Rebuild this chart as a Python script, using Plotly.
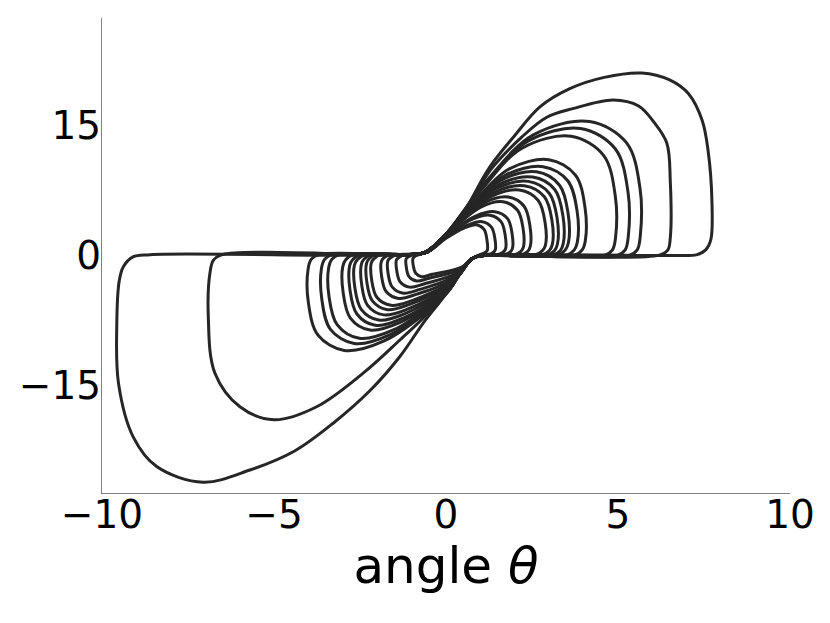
import plotly.graph_objects as go

# ---- data: key points (theta, omega) of each loop of the trajectory ----
upper_loops = [
    [(-0.9,0.05),(-0.5,0.45),(0.0,2.4),(0.46,4.6),(1.28,10.2),(2.0,13.8),(2.73,17.1),(3.6,19.2),(4.6,20.5),(5.69,21.0),(6.5,20.2),(7.05,18.6),(7.45,15.5),(7.62,12.0),(7.73,6.3),(7.7,1.8),(7.55,0.6),(7.3,0.05),(6.5,-0.05),(1.1,-0.05),(0.78,-0.35),(0.45,-1.8)],
    [(-0.9,0.05),(-0.5,0.45),(0.0,2.4),(0.5,4.7),(1.3,9.85),(2.2,13.6),(2.93,15.9),(3.69,16.9),(4.86,17.9),(5.6,17.2),(6.05,15.3),(6.42,12.9),(6.52,8.5),(6.52,2.0),(6.45,0.6),(6.2,0.0),(1.1,-0.05),(0.78,-0.35),(0.45,-1.8)],
    [(-0.9,0.05),(-0.5,0.45),(0.0,2.4),(1.16,8.47),(2.54,13.86),(4.17,15.4),(5.25,12.94),(5.64,7.7),(5.65,2.3),(5.56,0.6),(5.34,0.0),(1.1,-0.05),(0.78,-0.35),(0.45,-1.8)],
    [(-0.9,0.05),(-0.5,0.45),(0.0,2.4),(1.1,8.03),(2.38,13.14),(3.91,14.6),(4.92,12.26),(5.29,7.3),(5.3,2.19),(5.21,0.6),(4.99,0.0),(1.1,-0.05),(0.78,-0.35),(0.45,-1.8)],
    [(-0.9,0.05),(-0.5,0.45),(0.0,2.4),(1.03,7.54),(2.21,12.33),(3.64,13.7),(4.58,11.5),(4.92,6.85),(4.93,2.06),(4.84,0.6),(4.62,0.0),(1.1,-0.05),(0.78,-0.35),(0.45,-1.8)],
    [(-0.9,0.05),(-0.5,0.45),(0.0,2.4),(0.8,6.05),(1.82,9.9),(2.99,11.0),(3.76,9.24),(4.04,5.5),(4.05,1.65),(3.96,0.6),(3.74,0.0),(1.1,-0.05),(0.78,-0.35),(0.45,-1.8)],
    [(-0.9,0.05),(-0.5,0.45),(0.0,2.4),(0.72,5.61),(1.71,9.18),(2.82,10.2),(3.54,8.57),(3.81,5.1),(3.82,1.53),(3.73,0.6),(3.51,0.0),(1.1,-0.05),(0.78,-0.35),(0.45,-1.8)],
    [(-0.9,0.05),(-0.5,0.45),(0.0,2.4),(0.67,5.28),(1.6,8.64),(2.63,9.6),(3.3,8.06),(3.55,4.8),(3.56,1.44),(3.47,0.6),(3.25,0.0),(1.1,-0.05),(0.78,-0.35),(0.45,-1.8)],
    [(-0.9,0.05),(-0.5,0.45),(0.0,2.4),(0.62,4.95),(1.53,8.1),(2.52,9.0),(3.16,7.56),(3.4,4.5),(3.41,1.35),(3.32,0.5),(3.1,0.0),(1.1,-0.05),(0.78,-0.35),(0.45,-1.8)],
    [(-0.9,0.05),(-0.5,0.45),(0.0,2.4),(0.57,4.68),(1.45,7.65),(2.39,8.5),(3.0,7.14),(3.23,4.25),(3.24,1.28),(3.15,0.5),(2.93,0.0),(1.1,-0.05),(0.78,-0.35),(0.45,-1.8)],
    [(-0.9,0.05),(-0.5,0.45),(0.0,2.4),(0.52,4.4),(1.39,7.2),(2.28,8.0),(2.86,6.72),(3.08,4.0),(3.09,1.2),(3.0,0.5),(2.78,0.0),(1.1,-0.05),(0.78,-0.35),(0.45,-1.8)],
    [(-0.9,0.05),(-0.5,0.45),(0.0,2.4),(0.46,4.13),(1.3,6.75),(2.13,7.5),(2.68,6.3),(2.88,3.75),(2.89,1.13),(2.8,0.5),(2.58,0.0),(1.1,-0.05),(0.78,-0.35),(0.45,-1.8)],
    [(-0.9,0.05),(-0.5,0.45),(0.0,2.4),(0.37,3.69),(1.1,6.03),(1.81,6.7),(2.27,5.63),(2.44,3.35),(2.45,1.0),(2.37,0.4),(2.17,0.0),(1.1,-0.05),(0.78,-0.35),(0.45,-1.8)],
    [(-0.9,0.05),(-0.5,0.45),(0.0,2.4),(0.3,3.38),(1.01,5.54),(1.66,6.15),(2.08,5.17),(2.24,3.08),(2.25,0.92),(2.17,0.4),(1.97,0.0),(1.1,-0.05),(0.78,-0.35),(0.45,-1.8)],
    [(-0.9,0.05),(-0.5,0.45),(0.17,2.75),(0.86,4.5),(1.42,5.0),(1.79,4.2),(1.92,2.5),(1.93,0.75),(1.85,0.3),(1.65,0.0),(1.1,-0.05),(0.78,-0.35),(0.45,-1.8)],
    [(-0.9,0.05),(-0.5,0.45),(0.13,2.53),(0.77,4.14),(1.27,4.6),(1.6,3.86),(1.72,2.3),(1.73,0.69),(1.65,0.3),(1.45,0.0),(1.1,-0.05),(0.78,-0.35),(0.45,-1.8)],
    [(-0.9,0.05),(-0.5,0.45),(0.03,2.12),(0.64,3.47),(1.05,3.85),(1.32,3.23),(1.42,1.93),(1.43,0.58),(1.35,0.25),(1.15,0.0),(0.78,-0.35),(0.45,-1.8)],
    [(-0.9,0.05),(-0.5,0.45),(0.0,1.93),(0.54,3.15),(0.88,3.5),(1.11,2.94),(1.19,1.75),(1.2,0.53),(1.12,0.25),(0.95,0.0),(0.78,-0.35),(0.45,-1.8)],
]

lower_loops = [
    [(1.1,-0.05),(0.78,-0.35),(0.4,-2.2),(0.1,-4.0),(-0.6,-7.5),(-1.34,-11.7),(-2.2,-15.6),(-3.28,-19.4),(-4.4,-22.6),(-5.7,-24.8),(-7.06,-26.2),(-8.41,-24.4),(-9.09,-21.0),(-9.52,-14.8),(-9.57,-8.0),(-9.5,-3.0),(-9.38,-1.35),(-9.1,-0.2),(-8.6,0.05),(-1.1,0.05),(-0.6,0.35),(-0.15,1.8)],
    [(1.1,-0.05),(0.78,-0.35),(0.4,-2.2),(0.0,-4.2),(-0.65,-7.2),(-1.34,-9.8),(-2.4,-13.6),(-3.76,-17.5),(-5.0,-19.0),(-5.99,-17.5),(-6.72,-13.6),(-6.91,-7.1),(-6.86,-2.0),(-6.76,-0.58),(-6.5,0.05),(-1.1,0.05),(-0.6,0.35),(-0.15,1.8)],
    [(1.1,-0.05),(0.78,-0.35),(0.4,-2.2),(0.1,-4.0),(-0.41,-6.05),(-1.8,-9.9),(-2.96,-11.0),(-3.72,-9.24),(-4.0,-5.5),(-4.01,-1.65),(-3.92,-0.5),(-3.7,0.05),(-1.1,0.05),(-0.6,0.35),(-0.15,1.8)],
    [(1.1,-0.05),(0.78,-0.35),(0.4,-2.2),(0.1,-4.0),(-0.32,-5.61),(-1.62,-9.18),(-2.67,-10.2),(-3.36,-8.57),(-3.61,-5.1),(-3.62,-1.53),(-3.53,-0.5),(-3.31,0.05),(-1.1,0.05),(-0.6,0.35),(-0.15,1.8)],
    [(1.1,-0.05),(0.78,-0.35),(0.4,-2.2),(0.1,-4.0),(-0.26,-5.28),(-1.53,-8.64),(-2.52,-9.6),(-3.16,-8.06),(-3.4,-4.8),(-3.41,-1.44),(-3.32,-0.5),(-3.1,0.05),(-1.1,0.05),(-0.6,0.35),(-0.15,1.8)],
    [(1.1,-0.05),(0.78,-0.35),(0.4,-2.2),(-0.15,-4.76),(-1.35,-7.79),(-2.21,-8.65),(-2.78,-7.27),(-2.99,-4.33),(-3.0,-1.3),(-2.91,-0.5),(-2.69,0.05),(-1.1,0.05),(-0.6,0.35),(-0.15,1.8)],
    [(1.1,-0.05),(0.78,-0.35),(0.4,-2.2),(-0.09,-4.46),(-1.26,-7.29),(-2.06,-8.1),(-2.59,-6.8),(-2.79,-4.05),(-2.8,-1.22),(-2.71,-0.5),(-2.49,0.05),(-1.1,0.05),(-0.6,0.35),(-0.15,1.8)],
    [(1.1,-0.05),(0.78,-0.35),(0.4,-2.2),(-0.03,-4.13),(-1.19,-6.75),(-1.96,-7.5),(-2.46,-6.3),(-2.65,-3.75),(-2.66,-1.13),(-2.57,-0.5),(-2.35,0.05),(-1.1,0.05),(-0.6,0.35),(-0.15,1.8)],
    [(1.1,-0.05),(0.78,-0.35),(0.4,-2.2),(0.03,-3.8),(-1.1,-6.21),(-1.81,-6.9),(-2.28,-5.8),(-2.45,-3.45),(-2.46,-1.04),(-2.38,-0.45),(-2.17,0.05),(-1.1,0.05),(-0.6,0.35),(-0.15,1.8)],
    [(1.1,-0.05),(0.78,-0.35),(0.4,-2.2),(0.09,-3.47),(-1.04,-5.67),(-1.7,-6.3),(-2.14,-5.29),(-2.3,-3.15),(-2.31,-0.95),(-2.23,-0.4),(-2.03,0.05),(-1.1,0.05),(-0.6,0.35),(-0.15,1.8)],
    [(1.1,-0.05),(0.78,-0.35),(0.4,-2.2),(0.13,-3.19),(-0.97,-5.22),(-1.6,-5.8),(-2.01,-4.87),(-2.16,-2.9),(-2.17,-0.87),(-2.09,-0.4),(-1.89,0.05),(-1.1,0.05),(-0.6,0.35),(-0.15,1.8)],
    [(1.1,-0.05),(0.78,-0.35),(0.21,-2.75),(-0.84,-4.5),(-1.38,-5.0),(-1.74,-4.2),(-1.87,-2.5),(-1.88,-0.75),(-1.8,-0.3),(-1.6,0.05),(-1.1,0.05),(-0.6,0.35),(-0.15,1.8)],
    [(1.1,-0.05),(0.78,-0.35),(0.26,-2.42),(-0.76,-3.96),(-1.24,-4.4),(-1.56,-3.7),(-1.68,-2.2),(-1.69,-0.66),(-1.61,-0.3),(-1.41,0.05),(-1.05,0.1),(-0.6,0.35),(-0.15,1.8)],
    [(1.1,-0.05),(0.78,-0.35),(0.33,-2.04),(-0.64,-3.33),(-1.06,-3.7),(-1.33,-3.11),(-1.43,-1.85),(-1.44,-0.56),(-1.36,-0.25),(-1.18,0.05),(-0.6,0.35),(-0.15,1.8)],
    [(1.1,-0.05),(0.78,-0.35),(0.41,-1.65),(-0.52,-2.7),(-0.85,-3.0),(-1.07,-2.52),(-1.15,-1.5),(-1.16,-0.45),(-1.09,-0.2),(-0.93,0.05),(-0.6,0.35),(-0.15,1.8)],
    [(1.1,-0.05),(0.78,-0.35),(0.46,-1.38),(-0.43,-2.25),(-0.7,-2.5),(-0.88,-2.1),(-0.95,-1.25),(-0.96,-0.38),(-0.9,-0.15),(-0.78,0.05),(-0.55,0.4),(-0.15,1.8)],
]

x_tick_values = [-10, -5, 0, 5, 10]
y_tick_values = [-15, 0, 15]
x_range = [-10, 10]
y_range = [-27.45, 27.35]
x_title = "angle <i>θ</i>"

LINE_COLOR = "#262626"
SPINE_COLOR = "#808080"
FONT = "DejaVu Sans"

fig = go.Figure()
for loop in upper_loops + lower_loops:
    fig.add_trace(go.Scatter(
        x=[p[0] for p in loop],
        y=[p[1] for p in loop],
        mode="lines",
        line=dict(color=LINE_COLOR, width=3, shape="spline", smoothing=1.0),
        hoverinfo="skip",
        showlegend=False,
    ))

axis_common = dict(
    showline=True, linecolor=SPINE_COLOR, linewidth=1.3, mirror=False,
    showgrid=False, zeroline=False, ticks="",
    tickfont=dict(family=FONT, size=39, color="black"),
)

# the page body adds an 8 px offset, so the margins are reduced accordingly
fig.update_layout(
    width=830, height=623,
    margin=dict(l=94, r=48, t=10, b=138, autoexpand=False),
    paper_bgcolor="white", plot_bgcolor="white",
    font=dict(family=FONT, color="black"),
    xaxis=dict(range=x_range, tickvals=x_tick_values, ticklabelstandoff=-13,
               title=dict(text=x_title, font=dict(family=FONT, size=50, color="black"), standoff=4),
               **axis_common),
    yaxis=dict(range=y_range, tickvals=y_tick_values, ticklabelstandoff=-8,
               **axis_common),
)

fig.write_html("out.html")
